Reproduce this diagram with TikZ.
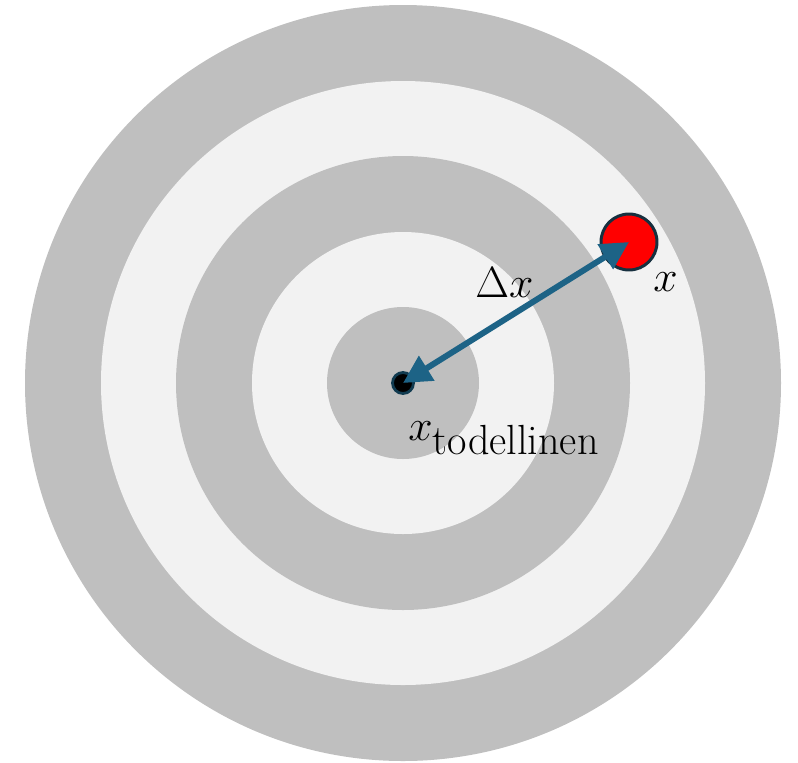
\documentclass[tikz,border=0pt]{standalone}
\usepackage{tikz}
\usetikzlibrary{arrows.meta,positioning}
\definecolor{RingGray}{HTML}{BFBFBF}
\definecolor{RingLight}{HTML}{F2F2F2}
\definecolor{ArrowTeal}{HTML}{1D6386}
\definecolor{DotRed}{HTML}{FF0000}
\definecolor{Ink}{HTML}{17303F}

\begin{document}
\begin{tikzpicture}[x=0.02cm,y=-0.02cm,
  dark/.style={fill=RingGray,draw=none},
  light/.style={fill=RingLight,draw=none},
  measdot/.style={circle,draw=Ink,line width=1.7pt,fill=DotRed,minimum size=1.12cm,inner sep=0pt},
  truedot/.style={circle,draw=ArrowTeal!60!black,line width=1.6pt,fill=black,minimum size=0.42cm,inner sep=0pt},
  lbl/.style={font=\fontsize{26}{30}\selectfont,inner sep=0pt},
  arr/.style={{Triangle[length=5.6mm,width=5.6mm]}-{Triangle[length=5.6mm,width=5.6mm]},draw=ArrowTeal,fill=ArrowTeal,line width=3.4pt}
]
\useasboundingbox (0,0) rectangle (798,762);

\fill[dark] (403,383) circle[radius=378];
\fill[light] (403,383) circle[radius=302];
\fill[dark] (403,383) circle[radius=227];
\fill[light] (403,383) circle[radius=151];
\fill[dark] (403,383) circle[radius=76];

\node[truedot] (truth) at (403,383) {};
\node[measdot] (meas) at (629,242) {};

\draw[arr] (truth.center) -- (meas.center);

\node[lbl,anchor=base west] (dxlabel) at (475,297) {$\Delta x$};
\node[lbl,anchor=base west] (measlabel) at (653,291) {$x$};
\node[lbl,anchor=base west] (truthlabel) at (408,440) {$x_{\raisebox{-4pt}{\fontsize{24}{26}\selectfont todellinen}}$};
\end{tikzpicture}
\end{document}
